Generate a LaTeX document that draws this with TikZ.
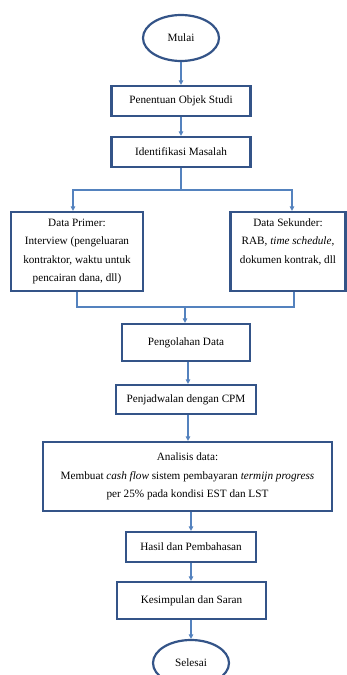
\documentclass[tikz,border=0pt]{standalone}
\usepackage{fontspec}
\setmainfont{Liberation Serif}
\usetikzlibrary{arrows.meta,positioning,shapes.geometric}
\definecolor{boxblue}{RGB}{52,84,136}
\definecolor{lineblue}{RGB}{84,130,190}
\tikzset{
  step box/.style={rectangle,draw=boxblue,line width=2.2pt,inner sep=2pt,align=center,font=\fontsize{11.2}{18.5}\selectfont},
  end node/.style={ellipse,draw=boxblue,line width=2.2pt,inner sep=0pt,minimum width=76pt,minimum height=46pt,font=\fontsize{11.2}{18.5}\selectfont},
  flow arrow/.style={lineblue,line width=1.1pt,-{Triangle[length=4.5pt,width=4.5pt]}},
  flow line/.style={lineblue,line width=1.1pt},
}

\begin{document}
\begin{tikzpicture}[x=1pt,y=-1pt]
  \useasboundingbox (0,0) rectangle (347,675);
  \node[end node] (mulai) at (181,38) {Mulai};
  \node[step box,minimum width=139pt,minimum height=30pt] (objek) at (181,101) {Penentuan Objek Studi};
  \node[step box,minimum width=139pt,minimum height=30pt] (masalah) at (181,152) {Identifikasi Masalah};
  \node[step box,minimum width=132pt,minimum height=79pt] (primer) at (77,251.5)
    {Data Primer:\\Interview (pengeluaran\\kontraktor, waktu untuk\\pencairan dana, dll)};
  \node[step box,minimum width=115pt,minimum height=79pt] (sekunder) at (288,251.5)
    {Data Sekunder:\\RAB, \textit{time schedule},\\dokumen kontrak, dll\\\phantom{g}};
  \node[step box,minimum width=128pt,minimum height=37pt] (olah) at (186,342.5) {Pengolahan Data};
  \node[step box,minimum width=140pt,minimum height=29pt] (cpm) at (186,399.5) {Penjadwalan dengan CPM};
  \node[step box,minimum width=289pt,minimum height=69pt] (analisis) at (187.5,476.5)
    {Analisis data:\\Membuat \textit{cash flow} sistem pembayaran \textit{termijn progress}\\per 25\% pada kondisi EST dan LST};
  \node[step box,minimum width=130pt,minimum height=30pt] (hasil) at (191,547) {Hasil dan Pembahasan};
  \node[step box,minimum width=149pt,minimum height=37pt] (saran) at (191.5,600.5) {Kesimpulan dan Saran};
  \node[end node] (selesai) at (191,663) {Selesai};

  \coordinate (split) at (181,190);
  \coordinate (merge) at (185,307);

  \draw[flow arrow] (mulai) -- (objek);
  \draw[flow arrow] (objek) -- (masalah);
  \draw[flow line] (masalah) -- (split);
  \draw[flow arrow] (split) -| ([xshift=-4pt]primer.north);
  \draw[flow arrow] (split) -| ([xshift=4pt]sekunder.north);
  \draw[flow line] (primer.south) |- (merge) -| ([xshift=6pt]sekunder.south);
  \draw[flow arrow] (merge) -- (merge |- olah.north);
  \draw[flow arrow] ([xshift=2pt]olah.south) -- ([xshift=2pt]cpm.north);
  \draw[flow arrow] ([xshift=2pt]cpm.south) -- ([xshift=0.5pt]analisis.north);
  \draw[flow arrow] ([xshift=3.5pt]analisis.south) -- (hasil.north);
  \draw[flow arrow] (hasil) -- (hasil |- saran.north);
  \draw[flow arrow] (saran.south -| hasil) -- (hasil |- selesai.north);
\end{tikzpicture}
\end{document}
